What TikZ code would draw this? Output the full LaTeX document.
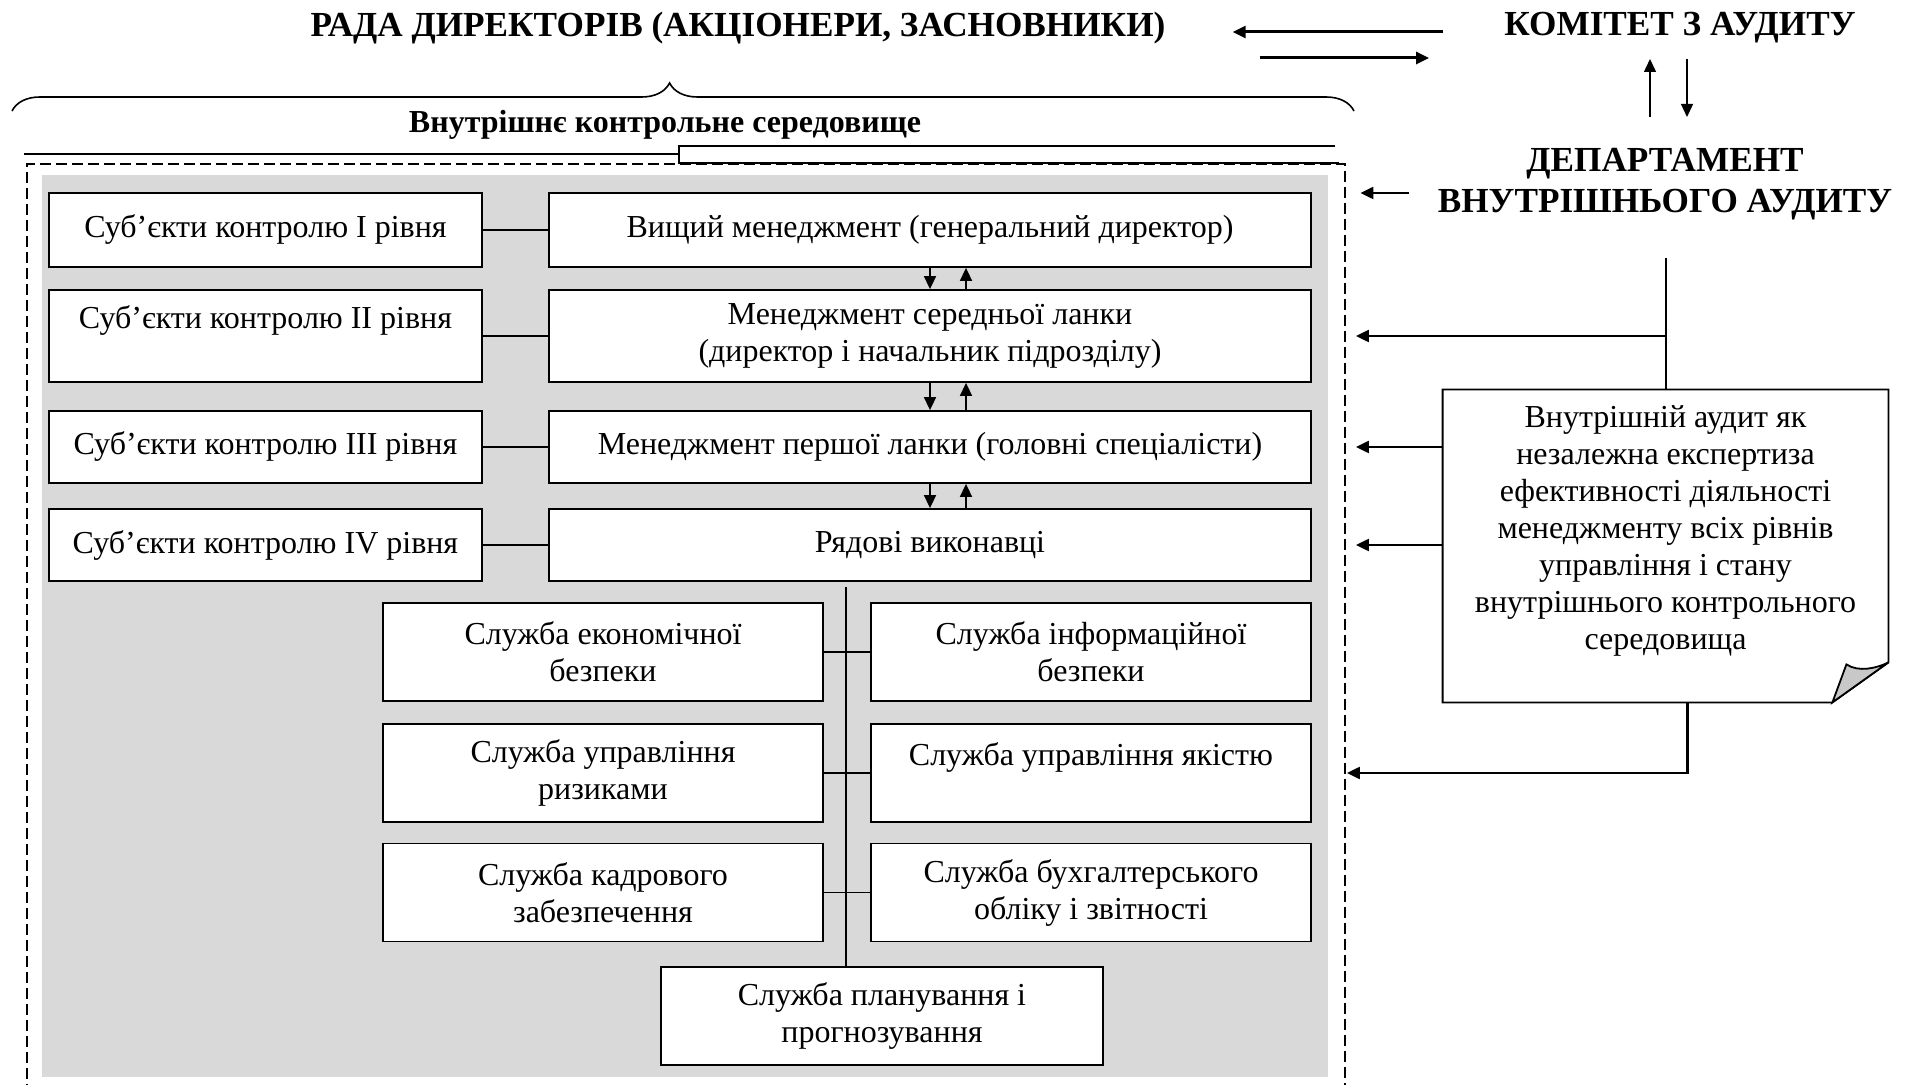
\documentclass[tikz,border=0pt]{standalone}
\usepackage{fontspec}
\setmainfont{Liberation Serif}
\usetikzlibrary{arrows.meta,calc,decorations.pathreplacing}
\definecolor{envgray}{HTML}{D9D9D9}
\definecolor{foldgray}{HTML}{C8C8C8}
\newcommand{\bodyfnt}{\fontsize{16}{18.5}\selectfont}
\newcommand{\headfnt}{\fontsize{17.6}{20.5}\selectfont\bfseries}

\begin{document}
\begin{tikzpicture}[x=0.5pt,y=-0.5pt,
    box/.style={draw,line width=0.9pt,fill=white,align=center,inner sep=2pt,font=\bodyfnt},
    head/.style={font=\headfnt,align=center,inner sep=0pt},
    arr/.style={-{Triangle[length=6.5pt,width=6pt]},line width=1.1pt},
    link/.style={line width=0.8pt}]
  \useasboundingbox (0,0) rectangle (1912,1085);

  % inner control environment
  \fill[envgray] (42,175) rectangle (1328,1077);
  \draw[line width=0.7pt,dash pattern=on 5.5pt off 2.5pt] (27,1095) -- (27,164) -- (1345,164) -- (1345,1095);
  \draw[line width=0.9pt] (24,154) -- (679,154);
  \draw[line width=0.9pt] (1339,163) -- (679,163) -- (679,146) -- (1335,146);

  % headings
  \node[head] (rada) at (738,28) {РАДА ДИРЕКТОРІВ (АКЦІОНЕРИ, ЗАСНОВНИКИ)};
  \node[head] (komitet) at (1680,28) {КОМІТЕТ З АУДИТУ};
  \node[head] (dep) at (1665,184) {ДЕПАРТАМЕНТ\\ВНУТРІШНЬОГО АУДИТУ};
  \node[font=\fontsize{16}{18}\selectfont\bfseries,inner sep=0pt] (env) at (665,125) {Внутрішнє контрольне середовище};
  \draw[line width=0.8pt,decorate,decoration={brace,amplitude=14pt,aspect=0.49}] (12,111) -- (1354,111);

  \draw[arr,line width=1.5pt] ($(komitet.west)+(-61,4)$) -- ($(rada.east)+(67,4)$);
  \draw[arr,line width=1.5pt] ($(rada.east)+(94,30)$) -- ($(komitet.west)+(-75,30)$);
  \draw[arr,line width=0.7pt] ($(dep.center)+(-15,-67)$) -- ($(komitet.center)+(-30,31)$);
  \draw[arr,line width=0.7pt] ($(komitet.center)+(7,31)$) -- ($(dep.center)+(22,-67)$);
  \draw[arr] ($(dep.west)+(-28,9)$) -- ++(-49,0);

  % levels of control
  \foreach \n/\y/\h/\subj/\txt in {1/230/37/{Суб’єкти контролю I рівня}/{Вищий менеджмент (генеральний директор)},
      2/336/46/{Суб’єкти контролю II рівня\\~}/{Менеджмент середньої ланки\\(директор і начальник підрозділу)},
      3/447/36/{Суб’єкти контролю III рівня}/{Менеджмент першої ланки (головні спеціалісти)},
      4/545/36/{Суб’єкти контролю IV рівня}/{Рядові виконавці}}{
    \node[box,minimum width=216.5pt,minimum height=\h pt] (subj\n) at (265.5,\y) {\subj};
    \node[box,minimum width=381pt,minimum height=\h pt] (mid\n) at (930,\y) {\txt};
    \draw[link] (subj\n) -- (mid\n);
  }
  \foreach \a/\b in {1/2,2/3,3/4}{
    \draw[arr,line width=0.8pt] (mid\a.south) -- (mid\b.north);
    \draw[arr,line width=0.8pt] ([xshift=18pt]mid\b.north) -- ([xshift=18pt]mid\a.south);
  }

  % services
  \coordinate (spine) at (846,587);
  \node[box,minimum width=221pt,minimum height=49pt] (plan) at (882,1016) {Служба планування і\\прогнозування};
  \draw[link] (spine) -- (spine |- plan.north);
  \foreach \n/\y/\la/\lb in {1/652/{Служба економічної\\безпеки}/{Служба інформаційної\\безпеки},
      2/773/{Служба управління\\ризиками}/{Служба управління якістю\\~},
      3/892.5/{Служба кадрового\\забезпечення}/{Служба бухгалтерського\\обліку і звітності}}{
    \node[box,minimum width=220pt,minimum height=49pt] (svcl\n) at (603,\y) {\la};
    \node[box,minimum width=220pt,minimum height=49pt] (svcr\n) at (1091,\y) {\lb};
    \draw[link] (svcl\n) -- (svcr\n);
  }

  % internal audit note
  \node[inner sep=0pt,minimum width=222.5pt,minimum height=156pt,align=center,font=\bodyfnt] (note) at (1665.5,546)
    {Внутрішній аудит як\\незалежна експертиза\\ефективності діяльності\\менеджменту всіх рівнів\\управління і стану\\внутрішнього контрольного\\середовища\\~};
  \draw[line width=0.9pt] (note.north west) -- (note.north east) -- ($(note.south east)+(0,-40)$)
    -- ($(note.south east)+(-56,0)$) -- (note.south west) -- cycle;
  \draw[line width=0.9pt,fill=foldgray] ($(note.south east)+(-56,0)$) -- ($(note.south east)+(-42,-38)$)
    .. controls ($(note.south east)+(-30,-30)$) and ($(note.south east)+(-12,-34)$) .. ($(note.south east)+(0,-40)$) -- cycle;

  \coordinate (depfoot) at (1666,258);
  \draw[line width=0.9pt] (depfoot) -- (depfoot |- note.north);
  \draw[arr] (depfoot |- mid2) -- ($(mid2.east)+(44,0)$);
  \foreach \n in {3,4}
    \draw[arr] (note.west |- mid\n) -- ($(mid\n.east)+(44,0)$);
  \draw[arr] ([xshift=11pt]note.south) |- ($(svcr2.east)+(35,0)$);
\end{tikzpicture}
\end{document}
